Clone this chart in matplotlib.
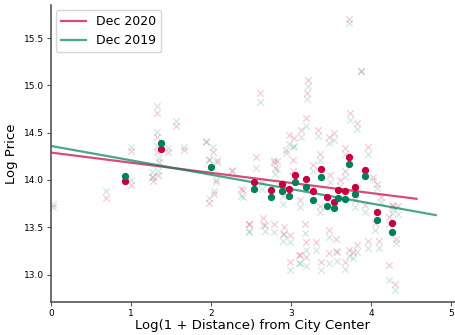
import numpy as np
import matplotlib
matplotlib.use("Agg")
import matplotlib.pyplot as plt

# --- data ---
# all listings: log distance, log price Dec 2020, log price Dec 2019
crossX = [0.03, 0.69, 1.00, 1.00, 1.26, 1.28, 1.34, 1.32, 1.32, 1.32, 1.35, 1.46, 1.56, 1.66,
          1.94, 1.97, 2.03, 2.08, 1.975, 2.04, 2.06, 2.26, 2.56, 2.61, 2.79, 3.21, 3.20, 3.19,
          3.13, 3.34, 2.97, 3.04, 2.94, 3.47, 3.54, 3.73, 3.88, 3.74, 3.82, 3.67, 3.96, 2.82,
          3.36, 3.03, 2.40, 2.47, 2.65, 2.79, 2.90, 2.99, 2.99, 2.91, 3.10, 3.17, 3.19, 3.31,
          3.38, 3.48, 3.56, 3.57, 3.68, 3.73, 3.77, 3.82, 3.96, 4.10, 4.22, 4.31, 4.30, 4.07,
          4.13, 4.26, 4.34, 4.22, 4.05, 4.28, 4.03, 2.47, 2.67, 3.11, 3.19, 3.47, 2.38, 2.80,
          3.03, 3.28, 3.49, 3.61, 3.80, 3.92, 3.11, 3.36, 2.90, 2.64, 3.67]
price2020 = [13.71, 13.81, 14.31, 13.95, 14.035, 13.99, 14.05, 14.45, 14.71, 14.30, 14.19, 14.30,
             14.57, 14.32, 14.40, 14.21, 14.30, 14.19, 13.76, 13.85, 14.00, 14.09, 14.24, 14.92,
             14.19, 15.06, 14.92, 14.66, 14.53, 14.53, 14.48, 14.44, 14.32, 14.45, 14.50, 15.70,
             15.15, 14.71, 14.60, 14.34, 14.35, 14.20, 14.27, 14.21, 13.89, 13.53, 13.60, 13.53,
             13.43, 13.42, 13.13, 13.50, 13.21, 13.54, 13.34, 13.34, 13.13, 13.23, 13.38, 13.24,
             13.13, 13.26, 13.24, 13.31, 13.35, 13.35, 13.10, 13.38, 12.90, 13.955, 13.82, 13.74,
             13.73, 13.61, 13.55, 13.72, 14.03, 13.53, 13.52, 13.21, 13.19, 13.47, 13.90, 14.13,
             14.10, 14.16, 14.05, 14.00, 13.79, 13.74, 13.79, 13.73, 13.83, 13.98, 14.10]
price2019 = [13.75, 13.88, 14.35, 14.00, 14.08, 14.03, 14.10, 14.51, 14.78, 14.36, 14.23, 14.34,
             14.62, 14.35, 14.41, 14.22, 14.35, 14.21, 13.81, 13.88, 13.975, 14.105, 14.13, 14.82,
             14.21, 14.99, 14.86, 14.57, 14.45, 14.46, 14.38, 14.36, 14.29, 14.39, 14.42, 15.66,
             15.15, 14.63, 14.54, 14.28, 14.275, 14.12, 14.21, 14.35, 13.82, 13.46, 13.52, 13.45,
             13.35, 13.34, 13.05, 13.43, 13.12, 13.44, 13.26, 13.26, 13.05, 13.12, 13.25, 13.14,
             13.06, 13.20, 13.17, 13.24, 13.28, 13.28, 12.94, 13.33, 12.84, 13.92, 13.77, 13.65,
             13.64, 13.54, 13.47, 13.69, 13.995, 13.45, 13.46, 13.12, 13.09, 13.40, 13.83, 14.06,
             14.04, 14.10, 13.98, 13.94, 13.71, 13.66, 13.71, 13.66, 13.75, 13.90, 14.03]

# highlighted listings (solid dots)
dotX = [0.92, 1.38, 2.00, 2.54, 2.75, 2.89, 2.975, 3.05, 3.19, 3.28, 3.37, 3.45,
        3.54, 3.59, 3.67, 3.73, 3.80, 3.92, 4.07, 4.26]
dot2020 = [13.99, 14.33, np.nan, 13.98, 13.89, 13.96, 13.90, 14.056, 14.01, 13.88, 14.12,
           13.82, 13.77, 13.89, 13.88, 14.24, 13.93, 14.105, 13.665, 13.55]
dot2019 = [14.045, 14.39, 14.14, 13.91, 13.82, 13.88, 13.83, 13.98, 13.93, 13.79, 14.035,
           13.73, 13.70, 13.81, 13.80, 14.17, 13.855, 14.04, 13.58, 13.45]

# regression fits: intercept, slope, last x
fitLabels = ["Dec 2020", "Dec 2019"]
fitIntercept = [14.29, 14.36]
fitSlope = [-0.107, -0.152]
fitXmax = [4.57, 4.81]

red = "#c8003c"
green = "#00805a"

fig = plt.figure(figsize=(4.55, 3.35), dpi=100)
ax = fig.add_axes([0.112, 0.0985, 0.888, 0.8865])

ax.scatter(crossX, price2020, marker="x", s=22, color=red, alpha=0.2, linewidths=0.9)
ax.scatter(crossX, price2019, marker="x", s=22, color=green, alpha=0.18, linewidths=0.9)

colors = [red, green]
for i in range(2):
    xs = np.array([0, fitXmax[i]])
    ax.plot(xs, fitIntercept[i] + fitSlope[i] * xs, color=colors[i], alpha=0.7,
            linewidth=1.6, label=fitLabels[i])

ax.scatter(dotX, dot2020, s=18, color=red, zorder=3)
ax.scatter(dotX, dot2019, s=18, color=green, zorder=3)

ax.set_xlim(0, 5.05)
ax.set_ylim(12.71, 15.85)
ax.set_xticks([0, 1, 2, 3, 4, 5])
ax.set_yticks([13.0, 13.5, 14.0, 14.5, 15.0, 15.5])
ax.tick_params(labelsize=6.5, length=3, pad=2, color="#555555")
for s in ["top", "right"]:
    ax.spines[s].set_visible(False)
for s in ["left", "bottom"]:
    ax.spines[s].set_color("#555555")
    ax.spines[s].set_linewidth(1.2)

ax.set_xlabel("Log(1 + Distance) from City Center", fontsize=9.5, labelpad=1)
ax.set_ylabel("Log Price", fontsize=9.5, labelpad=4)
ax.legend(loc="upper left", fontsize=9, handlelength=2.0, borderaxespad=0.4)

fig.savefig("out.png", dpi=100)
